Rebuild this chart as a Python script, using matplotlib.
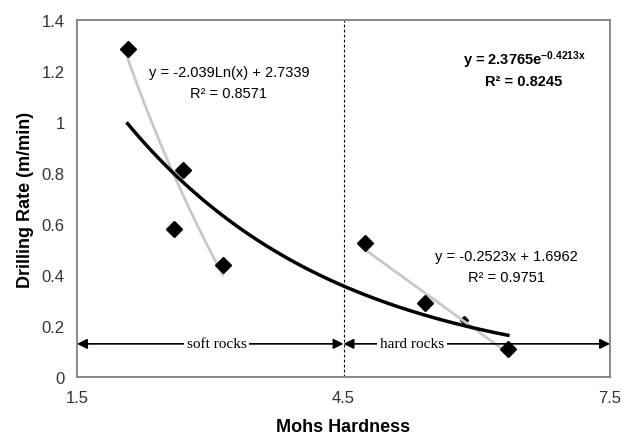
import numpy as np
import matplotlib
matplotlib.use("Agg")
import matplotlib.pyplot as plt

plt.rcParams["font.family"] = ["Liberation Sans", "DejaVu Sans"]
plt.rcParams["mathtext.default"] = "regular"

# Mohs hardness vs drilling rate
hardness = [2.07, 2.59, 2.69, 3.14, 4.74, 5.42, 5.86, 6.35]
rate = [1.285, 0.58, 0.81, 0.44, 0.525, 0.29, 0.225, 0.11]
soft_idx = [0, 1, 2, 3]
hard_idx = [4, 5, 6, 7]

# trend line coefficients as printed on the chart
log_fit = (-2.039, 2.7339)      # y = a*ln(x) + b
lin_fit = (-0.2523, 1.6962)     # y = a*x + b
exp_fit = (2.3765, -0.4213)     # y = a*exp(b*x)

boundary = 4.5
xticks = [1.5, 4.5, 7.5]
yticks = [0, 0.2, 0.4, 0.6, 0.8, 1, 1.2, 1.4]

hardness = np.array(hardness)
rate = np.array(rate)

fig = plt.figure(figsize=(6.22, 4.35), dpi=100)
ax = fig.add_axes([0.1238, 0.131, 0.857, 0.8207])

# soft rocks: logarithmic fit
xs = np.linspace(hardness[soft_idx].min(), hardness[soft_idx].max(), 50)
ax.plot(xs, log_fit[0] * np.log(xs) + log_fit[1], color="#c8c8c8", lw=2, zorder=2)

# hard rocks: linear fit
xh = np.linspace(hardness[hard_idx].min(), hardness[hard_idx].max(), 50)
ax.plot(xh, lin_fit[0] * xh + lin_fit[1], color="#c8c8c8", lw=2, zorder=2)

# all data: exponential fit
xa = np.linspace(hardness.min(), hardness.max(), 100)
ax.plot(xa, exp_fit[0] * np.exp(exp_fit[1] * xa), color="black", lw=2.5, zorder=3)

# markers (the one at ~5.9 is mostly hidden in the original)
big = [i for i in range(len(hardness)) if i != 6]
ax.plot(hardness[big], rate[big], linestyle="none", marker="D", color="black", ms=8, zorder=4)
ax.plot(hardness[6], rate[6], linestyle="none", marker="D", color="black", ms=4, zorder=1.5)

ax.axvline(boundary, color="black", lw=0.8, ls=(0, (2.5, 2)), zorder=1)

# soft / hard range arrows
arr_y = 0.13
for x0, x1 in [(1.5, boundary), (boundary, 7.5)]:
    ax.annotate("", xy=(x0, arr_y), xytext=(x1, arr_y),
                arrowprops=dict(arrowstyle="<|-|>", color="black", lw=1.2,
                                mutation_scale=15, shrinkA=0, shrinkB=0), zorder=5)
for xc, label in [(3.07, "soft rocks"), (5.27, "hard rocks")]:
    ax.text(xc, arr_y, label, ha="center", va="center", fontsize=11,
            family="Liberation Serif", zorder=6,
            bbox=dict(facecolor="white", edgecolor="none", pad=2))

# equations
ax.text(3.21, 1.196, "y = -2.039Ln(x) + 2.7339", ha="center", va="center", fontsize=10.5)
ax.text(3.21, 1.114, "R² = 0.8571", ha="center", va="center", fontsize=10.5)
ax.text(6.53, 1.247, "y = 2.3765e$^{-0.4213x}$", ha="center", va="center", fontsize=10.5,
        fontweight="bold")
ax.text(6.53, 1.161, "R² = 0.8245", ha="center", va="center", fontsize=10.5, fontweight="bold")
ax.text(6.33, 0.475, "y = -0.2523x + 1.6962", ha="center", va="center", fontsize=10.5)
ax.text(6.33, 0.392, "R² = 0.9751", ha="center", va="center", fontsize=10.5)

ax.set_xlim(1.5, 7.5)
ax.set_ylim(0, 1.4)
ax.set_xticks(xticks)
ax.set_xticklabels([str(t) for t in xticks])
ax.set_yticks(yticks)
ax.set_yticklabels(["0", "0.2", "0.4", "0.6", "0.8", "1", "1.2", "1.4"])
ax.tick_params(length=0, labelsize=12, colors="#333333")
ax.tick_params(axis="x", pad=9)
ax.tick_params(axis="y", pad=9)
for s in ax.spines.values():
    s.set_color("#808080")
    s.set_linewidth(1.3)

ax.set_xlabel("Mohs Hardness", fontsize=13, fontweight="bold", labelpad=10)
ax.set_ylabel("Drilling Rate (m/min)", fontsize=13, fontweight="bold", labelpad=5)

fig.savefig("out.png", dpi=100)
